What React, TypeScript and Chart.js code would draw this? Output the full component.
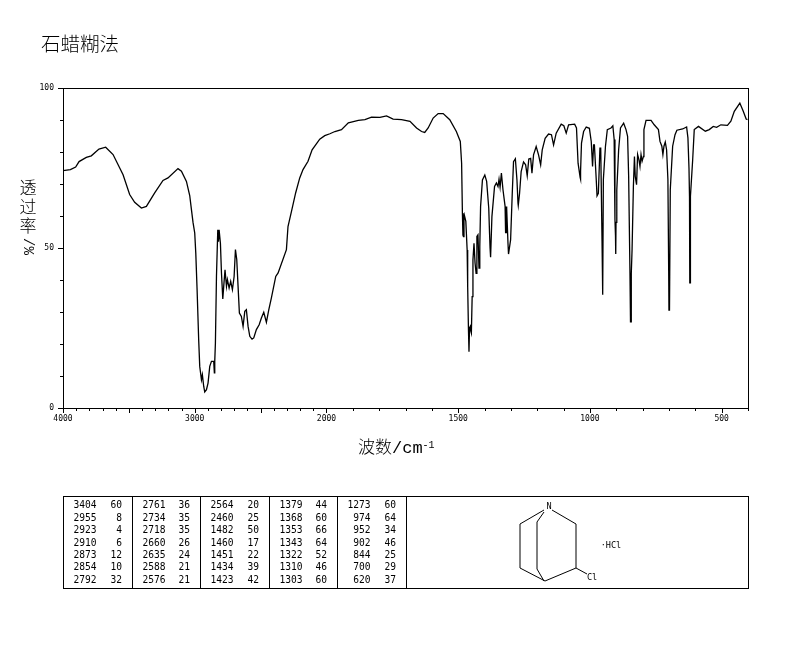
import React, { useEffect, useRef } from "react";
import { Chart, registerables } from "chart.js";

Chart.register(...registerables);

const wavenumbers = [
  4000, 3944, 3904, 3878, 3823, 3785, 3727, 3676, 3620, 3544, 3494, 3456, 3405, 3367, 3304, 3241, 3203, 3127, 3101, 3063,
  3038, 3025, 3013, 3000, 2992, 2982, 2970, 2962, 2949, 2942, 2932, 2924, 2911, 2899, 2886, 2873, 2856, 2851, 2848, 2843,
  2835, 2825, 2820, 2815, 2805, 2797, 2787, 2780, 2770, 2759, 2752, 2739, 2727, 2714, 2701, 2691, 2681, 2671, 2661, 2646,
  2633, 2620, 2608, 2595, 2582, 2565, 2552, 2532, 2511, 2494, 2476, 2456, 2438, 2418, 2385, 2367, 2304, 2292, 2266, 2234,
  2203, 2178, 2140, 2109, 2051, 2013, 1987, 1968, 1943, 1917, 1879, 1854, 1829, 1797, 1772, 1747, 1715, 1683, 1658, 1639,
  1627, 1614, 1595, 1576, 1557, 1532, 1507, 1492, 1487, 1484, 1482, 1480, 1478, 1477, 1471, 1466, 1464, 1461, 1459, 1457,
  1454, 1452, 1450, 1447, 1444, 1440, 1436, 1432, 1429, 1425, 1421, 1418, 1415, 1408, 1399, 1392, 1384, 1381, 1379, 1377,
  1372, 1362, 1355, 1349, 1345, 1341, 1336, 1330, 1322, 1321, 1320, 1319, 1318, 1317, 1315, 1311, 1309, 1301, 1295, 1290,
  1283, 1277, 1273, 1272, 1267, 1261, 1252, 1244, 1238, 1232, 1225, 1220, 1214, 1204, 1195, 1187, 1181, 1170, 1157, 1146,
  1138, 1128, 1109, 1099, 1090, 1081, 1058, 1051, 1045, 1037, 1036, 1035, 1032, 1024, 1014, 1002, 995, 990, 986, 983,
  976, 973, 968, 962, 959, 954, 952, 951, 949, 941, 934, 920, 913, 908, 905, 903, 902, 901, 898, 891,
  884, 872, 863, 857, 853, 848, 846, 845, 844, 843, 840, 835, 831, 828, 823, 819, 814, 810, 806, 802,
  797, 795, 787, 768, 756, 740, 734, 727, 723, 719, 714, 709, 704, 701, 700, 699, 698, 695, 686, 677,
  670, 648, 633, 628, 624, 622, 621, 620, 619, 618, 610, 604, 588, 562, 547, 532, 519, 503, 478, 465,
  452, 431, 418, 407, 402,
];

const transmittance = [
  74.2, 74.5, 75.3, 77.0, 78.3, 78.8, 80.9, 81.5, 79.2, 72.9, 66.7, 64.3, 62.5, 63.0, 67.2, 71.1, 71.9, 74.8, 74.0, 70.8,
  66.4, 62.0, 58.0, 54.7, 48.4, 36.9, 21.3, 13.0, 8.8, 10.4, 6.8, 5.0, 5.7, 7.8, 13.0, 14.6, 14.6, 11.0, 14.6, 20.3,
  41.1, 55.7, 52.0, 55.7, 51.5, 42.2, 34.1, 38.0, 43.2, 38.0, 40.1, 37.5, 39.6, 37.0, 41.1, 49.5, 46.4, 38.0, 29.7, 28.6,
  25.5, 30.2, 30.7, 25.5, 22.4, 21.5, 21.9, 24.5, 26.0, 28.1, 29.9, 26.8, 30.7, 34.4, 41.1, 42.2, 49.5, 56.7, 61.4, 67.2,
  71.9, 74.5, 77.1, 80.7, 84.0, 85.1, 85.7, 86.4, 87.0, 89.1, 89.9, 90.1, 90.9, 90.8, 91.3, 90.3, 90.1, 89.6, 87.5, 86.4,
  86.1, 87.5, 90.6, 92.0, 92.0, 90.1, 86.4, 83.3, 76.5, 60.9, 54.0, 53.6, 60.0, 60.4, 58.3, 49.4, 38.0, 24.4, 17.6, 25.0,
  25.5, 24.0, 23.4, 34.8, 46.3, 51.5, 45.3, 42.1, 53.6, 54.1, 43.7, 50.5, 63.0, 71.3, 72.8, 70.8, 62.4, 54.6, 50.0, 47.1,
  59.8, 69.2, 70.3, 69.2, 71.5, 69.0, 73.4, 68.2, 63.0, 54.6, 63.0, 54.6, 63.0, 54.6, 62.4, 51.5, 48.1, 52.6, 66.6, 77.0,
  77.9, 71.3, 64.0, 63.3, 67.1, 73.9, 76.9, 76.0, 72.6, 77.8, 78.0, 73.4, 79.1, 81.7, 79.1, 76.0, 80.7, 84.3, 85.6, 85.4,
  82.2, 85.9, 88.7, 88.2, 85.9, 88.5, 88.7, 87.5, 76.5, 72.0, 71.5, 74.0, 82.8, 86.4, 87.8, 87.4, 83.3, 75.5, 82.2, 82.2,
  71.3, 66.3, 67.1, 81.2, 81.2, 52.0, 41.0, 35.4, 71.4, 81.8, 87.0, 87.5, 88.2, 83.9, 58.9, 54.0, 48.1, 58.0, 68.2, 80.7,
  87.5, 89.0, 87.0, 84.9, 72.4, 42.2, 26.9, 42.0, 26.9, 42.0, 49.5, 69.3, 78.6, 72.4, 69.8, 79.2, 77.6, 75.5, 79.2, 77.1,
  78.6, 87.0, 89.9, 89.9, 88.5, 87.0, 83.3, 81.8, 79.2, 81.8, 83.1, 80.7, 71.4, 42.7, 30.4, 42.0, 30.4, 68.2, 81.8, 85.4,
  86.8, 87.2, 87.8, 84.4, 75.0, 66.0, 38.9, 66.0, 38.9, 66.1, 77.6, 87.0, 88.0, 86.5, 87.0, 88.0, 87.7, 88.5, 88.3, 89.6,
  92.7, 95.3, 92.7, 90.3, 90.1,
];

const majorTicks = [4000, 3500, 3000, 2500, 2000, 1500, 1000, 500];
const labelledTicks = [4000, 3000, 2000, 1500, 1000, 500];
const yLabelledTicks = [0, 50, 100];
const yTitleChars = ["透", "过", "率"];

const peakColumns = [
  [["3404", "60"], ["2955", "8"], ["2923", "4"], ["2910", "6"], ["2873", "12"], ["2854", "10"], ["2792", "32"]],
  [["2761", "36"], ["2734", "35"], ["2718", "35"], ["2660", "26"], ["2635", "24"], ["2588", "21"], ["2576", "21"]],
  [["2564", "20"], ["2460", "25"], ["1482", "50"], ["1460", "17"], ["1451", "22"], ["1434", "39"], ["1423", "42"]],
  [["1379", "44"], ["1368", "60"], ["1353", "66"], ["1343", "64"], ["1322", "52"], ["1310", "46"], ["1303", "60"]],
  [["1273", "60"], ["974", "64"], ["952", "34"], ["902", "46"], ["844", "25"], ["700", "29"], ["620", "37"]],
];

// The spectrum axis is compressed by two above 2000 cm-1.
const toAxis = (w: number) => (w >= 2000 ? (4000 - w) / 2 : 1000 + (2000 - w));
const fromAxis = (a: number) => (a <= 1000 ? 4000 - a * 2 : 2000 - (a - 1000));

const MONO = '"DejaVu Sans Mono", monospace';
const CJK = '"Noto Sans CJK SC", sans-serif';

const framePlugin = {
  id: "frame",
  afterDraw(chart: any) {
    const { ctx, chartArea: a, scales } = chart;
    ctx.save();
    ctx.strokeStyle = "#000";
    ctx.lineWidth = 1;
    ctx.strokeRect(a.left + 0.5, a.top + 0.5, a.right - a.left, a.bottom - a.top);
    ctx.beginPath();
    for (let w = 4000; w >= 400; w -= 100) {
      const x = Math.round(scales.x.getPixelForValue(toAxis(w))) + 0.5;
      ctx.moveTo(x, a.bottom);
      ctx.lineTo(x, a.bottom + (w % 500 === 0 ? 5 : 3));
    }
    for (let v = 10; v < 100; v += 10) {
      const y = Math.round(scales.y.getPixelForValue(v)) + 0.5;
      ctx.moveTo(a.left, y);
      ctx.lineTo(a.left - (v === 50 ? 5 : 3), y);
    }
    ctx.stroke();
    ctx.restore();
  },
};

const box: React.CSSProperties = { position: "absolute", whiteSpace: "nowrap", color: "#000" };

export default function App() {
  const ref = useRef<HTMLCanvasElement>(null);

  useEffect(() => {
    const chart = new Chart(ref.current as HTMLCanvasElement, {
      type: "line",
      data: {
        datasets: [
          {
            data: wavenumbers.map((w, i) => ({ x: toAxis(w), y: transmittance[i] })),
            borderColor: "#000",
            borderWidth: 1.3,
            pointRadius: 0,
            tension: 0,
            fill: false,
          },
        ],
      },
      options: {
        animation: false,
        responsive: false,
        devicePixelRatio: 1,
        layout: { padding: { left: 23, top: 88, right: 46, bottom: 190 } },
        plugins: { legend: { display: false }, tooltip: { enabled: false }, title: { display: false } },
        scales: {
          x: {
            type: "linear",
            min: 0,
            max: 2600,
            afterBuildTicks(scale: any) {
              scale.ticks = majorTicks.map((w) => ({ value: toAxis(w) }));
            },
            afterFit(scale: any) {
              scale.height = 54;
            },
            grid: { drawOnChartArea: false, drawTicks: true, tickLength: 5, tickColor: "transparent" },
            border: { color: "#000" },
            ticks: {
              autoSkip: false,
              maxRotation: 0,
              padding: 1,
              color: "#000",
              font: { family: MONO, size: 8 },
              callback: (v: any) => {
                const w = fromAxis(Number(v));
                return labelledTicks.includes(w) ? String(w) : "";
              },
            },
          },
          y: {
            min: 0,
            max: 100,
            afterBuildTicks(scale: any) {
              scale.ticks = yLabelledTicks.map((v) => ({ value: v }));
            },
            afterFit(scale: any) {
              scale.width = 40;
            },
            grid: { drawOnChartArea: false, drawTicks: true, tickLength: 5, tickColor: "#000" },
            border: { color: "#000" },
            ticks: { padding: 4, color: "#000", font: { family: MONO, size: 8 } },
          },
        },
      } as any,
      plugins: [framePlugin],
    });
    return () => chart.destroy();
  }, []);

  const colLefts = [63, 132, 200, 269, 337];
  const colWidths = [69, 68, 69, 68, 69];
  const rowY = [505.3, 517.7, 530, 542.7, 555, 567.3, 579.7];

  return (
    <div style={{ position: "absolute", left: 0, top: 0, width: 794, height: 652, background: "#fff", overflow: "hidden" }}>
      <canvas ref={ref} width={794} height={652} style={{ position: "absolute", left: 0, top: 0, display: "block" }} />
      <div style={{ ...box, left: 41, top: 29, fontFamily: CJK, fontSize: 19.5, lineHeight: "28px", fontWeight: 300 }}>石蜡糊法</div>
      {yTitleChars.map((ch, i) => (
        <div key={ch} style={{ ...box, left: 19, width: 18, top: 177 + i * 19, textAlign: "center", fontFamily: CJK, fontSize: 17, lineHeight: "20px", fontWeight: 300 }}>
          {ch}
        </div>
      ))}
      <div style={{ ...box, left: 19, width: 18, top: 235, height: 22, lineHeight: "18px", textAlign: "center", fontFamily: '"Liberation Mono", monospace', fontSize: 14, writingMode: "vertical-rl" }}>
        /%
      </div>
      <div style={{ ...box, left: 358, top: 436, fontFamily: CJK, fontSize: 17, lineHeight: "20px", fontWeight: 300 }}>
        波数<span style={{ fontFamily: '"Liberation Mono", monospace', fontSize: 17 }}>/cm</span>
        <span style={{ fontFamily: '"Liberation Mono", monospace', fontSize: 10, position: "relative", top: -5 }}>-1</span>
      </div>
      <div style={{ position: "absolute", left: 63, top: 496, width: 684, height: 91, border: "1px solid #000", boxSizing: "content-box" }} />
      {colLefts.slice(1).concat([406]).map((x) => (
        <div key={x} style={{ position: "absolute", left: x, top: 496, width: 1, height: 92, background: "#000" }} />
      ))}
      {peakColumns.map((col, c) =>
        col.map((row, r) => (
          <React.Fragment key={`${c}-${r}`}>
            <div style={{ ...box, left: colLefts[c], width: 33.5, top: rowY[r] - 6, textAlign: "right", fontFamily: MONO, fontSize: 9.6, lineHeight: "12px" }}>
              {row[0]}
            </div>
            <div style={{ ...box, left: colLefts[c], width: colWidths[c] - 10, top: rowY[r] - 6, textAlign: "right", fontFamily: MONO, fontSize: 9.6, lineHeight: "12px" }}>
              {row[1]}
            </div>
          </React.Fragment>
        ))
      )}
      <svg width={794} height={652} style={{ position: "absolute", left: 0, top: 0 }}>
        <g stroke="#000" strokeWidth={1} fill="none">
          <polyline points="552,510 576,524 576,568 545,581 520,568 520,524 544,510" />
          <polyline points="544,512 537,522 537,569 544,581" />
          <line x1={576} y1={568} x2={587} y2={574} />
        </g>
        <g fontFamily={MONO} fontSize={8.5} fill="#000">
          <text x={549} y={506} textAnchor="middle" dominantBaseline="central">N</text>
          <text x={592} y={577} textAnchor="middle" dominantBaseline="central">Cl</text>
          <text x={611} y={545} textAnchor="middle" dominantBaseline="central">·HCl</text>
        </g>
      </svg>
    </div>
  );
}
